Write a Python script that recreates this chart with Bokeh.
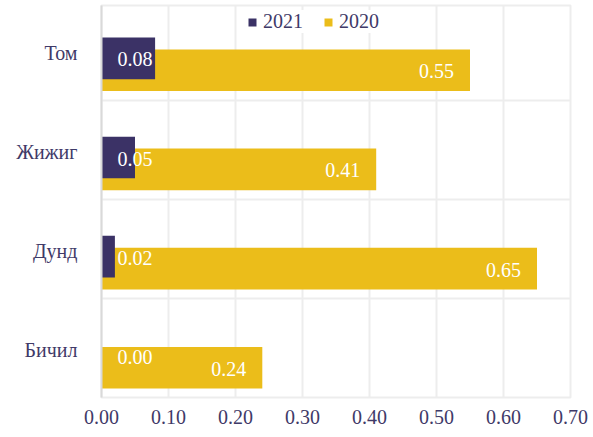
from bokeh.plotting import figure
from bokeh.models import (ColumnDataSource, FixedTicker, Legend, LegendItem, Range1d)
from bokeh.core.properties import value
from bokeh.embed import file_html
from bokeh.resources import INLINE

# ---- data ----
categories = ["Том", "Жижиг", "Дунд", "Бичил"]
v2021 = [0.08, 0.05, 0.02, 0.00]
v2020 = [0.55, 0.41, 0.65, 0.24]
x_ticks = [0.0, 0.1, 0.2, 0.3, 0.4, 0.5, 0.6, 0.7]
x_tick_labels = ["0.00", "0.10", "0.20", "0.30", "0.40", "0.50", "0.60", "0.70"]

PURPLE = "#3B3266"
GOLD = "#EBBD1A"
TEXT = "#3F3A68"
GRID = "#EDEDED"
FONT = "'Liberation Serif', 'Times New Roman', serif"

n = len(categories)
centers = [n - 1 - i + 0.5 for i in range(n)]
label_pos = [c - 0.025 for c in centers]
y21 = [c - 0.08 for c in centers]
y20 = [c - 0.20 for c in centers]

src = ColumnDataSource(dict(
    cat=categories, v21=v2021, v20=v2020, y21=y21, y20=y20,
    l21=["%.2f" % v for v in v2021], l20=["%.2f" % v for v in v2020],
    zero=[0.0] * n,
))

p = figure(width=593, height=437, output_backend="svg", toolbar_location=None,
           x_range=Range1d(0, 0.7), y_range=Range1d(0, 3.953),
           min_border_left=101, min_border_right=23, min_border_top=5, min_border_bottom=40)

r20 = p.hbar(y="y20", right="v20", left=0, height=0.42, source=src,
             fill_color=GOLD, line_color=None)
r21 = p.hbar(y="y21", right="v21", left=0, height=0.42, source=src,
             fill_color=PURPLE, line_color=None)

p.text(x="zero", y="y21", text="l21", source=src, x_offset=16, y_offset=1,
       text_align="left", text_baseline="middle", text_color="white",
       text_font=value(FONT), text_font_size="20px")
p.text(x="v20", y="y20", text="l20", source=src, x_offset=-16, y_offset=1,
       text_align="right", text_baseline="middle", text_color="white",
       text_font=value(FONT), text_font_size="20px")

# axes
p.xaxis.ticker = FixedTicker(ticks=x_ticks)
p.xaxis.major_label_overrides = {t: l for t, l in zip(x_ticks, x_tick_labels)}
p.yaxis.ticker = FixedTicker(ticks=label_pos)
p.yaxis.major_label_overrides = {c: cat for c, cat in zip(label_pos, categories)}
for ax in (p.xaxis, p.yaxis):
    ax.major_label_text_font = FONT
    ax.major_label_text_font_size = "20px"
    ax.major_label_text_color = TEXT
    ax.major_tick_line_color = None
    ax.minor_tick_line_color = None
p.xaxis.axis_line_color = None
p.yaxis.axis_line_color = "#D9D9D9"
p.yaxis.axis_line_width = 2
p.xaxis.major_label_standoff = 6
p.yaxis.major_label_standoff = 18

p.xgrid.ticker = FixedTicker(ticks=x_ticks)
p.ygrid.ticker = FixedTicker(ticks=[0, 1, 2, 3])
p.xgrid.grid_line_color = GRID
p.ygrid.grid_line_color = GRID
p.xgrid.grid_line_width = 2
p.ygrid.grid_line_width = 2
p.outline_line_color = GRID
p.outline_line_width = 2

legend = Legend(items=[LegendItem(label="2021", renderers=[r21]),
                       LegendItem(label="2020", renderers=[r20])],
                orientation="horizontal", location=(146, 364),
                glyph_width=10, glyph_height=10, label_standoff=6, spacing=20,
                padding=2, margin=0, border_line_color=None,
                background_fill_color="white", background_fill_alpha=1.0,
                label_text_font=FONT, label_text_font_size="20px",
                label_text_color=TEXT)
p.add_layout(legend)

open("out.html", "w").write(file_html(p, INLINE))
